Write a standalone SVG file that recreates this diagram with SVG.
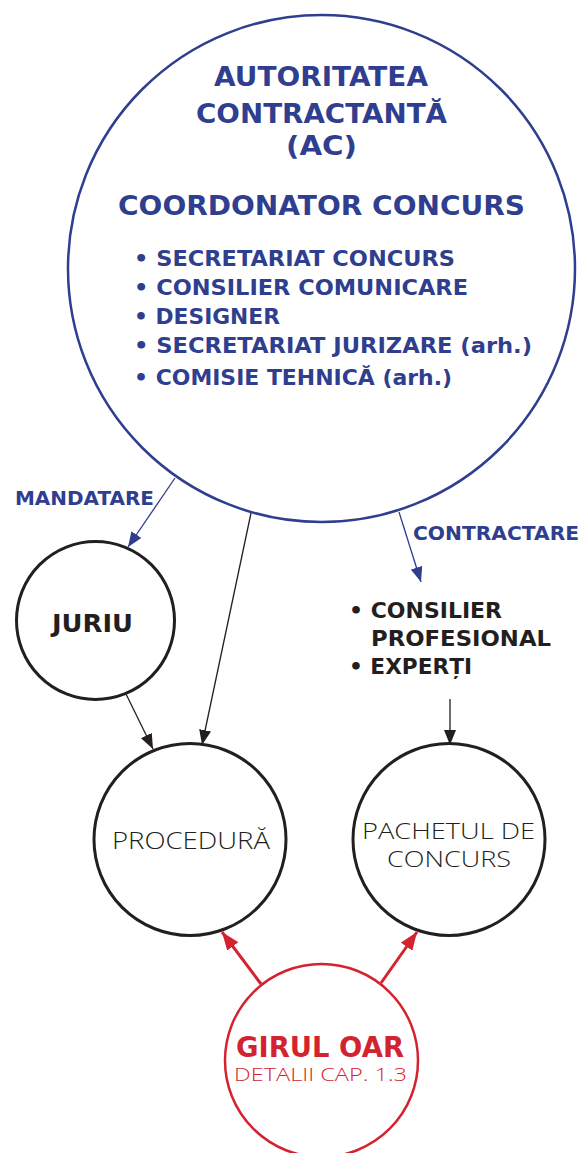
<svg xmlns="http://www.w3.org/2000/svg" width="584" height="1153" viewBox="0 0 584 1153">
<style>
.b{font-family:"DejaVu Sans","Liberation Sans",sans-serif;font-weight:bold}
.l{font-family:"Open Sans","Lato","Liberation Sans",sans-serif;font-weight:300}
.blue{fill:#2f3e8e}
.dark{fill:#231f20}
.red{fill:#d42330}
</style>
<defs>
<marker id="ab" markerUnits="userSpaceOnUse" markerWidth="15" markerHeight="12" refX="15" refY="6" orient="auto"><path d="M0,0 L15,6 L0,12 z" fill="#2f3e8e"/></marker>
<marker id="ak" markerUnits="userSpaceOnUse" markerWidth="15" markerHeight="12" refX="15" refY="6" orient="auto"><path d="M0,0 L15,6 L0,12 z" fill="#231f20"/></marker>
<marker id="ar" markerUnits="userSpaceOnUse" markerWidth="18" markerHeight="14" refX="18" refY="7" orient="auto"><path d="M0,0 L18,7 L0,14 z" fill="#d42330"/></marker>
</defs>
<rect width="584" height="1153" fill="#fff"/>
<g id="connectors">
<line x1="175" y1="478" x2="128" y2="547" stroke="#2f3e8e" stroke-width="1.3" marker-end="url(#ab)"/>
<line x1="399" y1="512" x2="421" y2="582" stroke="#2f3e8e" stroke-width="1.3" marker-end="url(#ab)"/>
<line x1="251" y1="513" x2="202" y2="745" stroke="#231f20" stroke-width="1.3" marker-end="url(#ak)"/>
<line x1="126" y1="694" x2="153" y2="749" stroke="#231f20" stroke-width="1.3" marker-end="url(#ak)"/>
<line x1="450" y1="699" x2="450" y2="745" stroke="#231f20" stroke-width="1.3" marker-end="url(#ak)"/>
<line x1="261" y1="984" x2="222" y2="932" stroke="#d42330" stroke-width="3" marker-end="url(#ar)"/>
<line x1="381" y1="983" x2="417" y2="932" stroke="#d42330" stroke-width="3" marker-end="url(#ar)"/>
<text class="b blue" x="15" y="505" font-size="19.5" textLength="139" lengthAdjust="spacingAndGlyphs">MANDATARE</text>
<text class="b blue" x="413" y="540" font-size="20" textLength="166" lengthAdjust="spacingAndGlyphs">CONTRACTARE</text>
</g>
<g id="ac">
<circle cx="321.5" cy="268.5" r="253.5" fill="none" stroke="#2f3e8e" stroke-width="2.5"/>
<text class="b blue" x="214" y="86" font-size="26" textLength="214" lengthAdjust="spacingAndGlyphs">AUTORITATEA</text>
<text class="b blue" x="196" y="123" font-size="26" textLength="251" lengthAdjust="spacingAndGlyphs">CONTRACTANTĂ</text>
<text class="b blue" x="286" y="155" font-size="26" textLength="71" lengthAdjust="spacingAndGlyphs">(AC)</text>
<text class="b blue" x="118" y="215" font-size="27" textLength="407" lengthAdjust="spacingAndGlyphs">COORDONATOR CONCURS</text>
<text class="b blue" x="134" y="266" font-size="21.5" textLength="321" lengthAdjust="spacingAndGlyphs">• SECRETARIAT CONCURS</text>
<text class="b blue" x="134" y="295" font-size="21.5" textLength="334" lengthAdjust="spacingAndGlyphs">• CONSILIER COMUNICARE</text>
<text class="b blue" x="134" y="324" font-size="21.5" textLength="146" lengthAdjust="spacingAndGlyphs">• DESIGNER</text>
<text class="b blue" x="134" y="353" font-size="21.5" textLength="398" lengthAdjust="spacingAndGlyphs">• SECRETARIAT JURIZARE (arh.)</text>
<text class="b blue" x="134" y="385" font-size="21.5" textLength="318" lengthAdjust="spacingAndGlyphs">• COMISIE TEHNICĂ (arh.)</text>
</g>
<g id="juriu">
<circle cx="95.5" cy="620.5" r="79" fill="none" stroke="#231f20" stroke-width="3"/>
<text class="b dark" x="52" y="632" font-size="25.5" textLength="81" lengthAdjust="spacingAndGlyphs">JURIU</text>
</g>
<g id="consilier">
<text class="b dark" x="349" y="618" font-size="22" textLength="153" lengthAdjust="spacingAndGlyphs">• CONSILIER</text>
<text class="b dark" x="371" y="646" font-size="22" textLength="180" lengthAdjust="spacingAndGlyphs">PROFESIONAL</text>
<text class="b dark" x="349" y="674" font-size="22" textLength="123" lengthAdjust="spacingAndGlyphs">• EXPERȚI</text>
</g>
<g id="procedura">
<circle cx="190" cy="839.5" r="96" fill="none" stroke="#231f20" stroke-width="3"/>
<text class="l dark" x="112" y="849" font-size="23" textLength="158" lengthAdjust="spacingAndGlyphs">PROCEDURĂ</text>
</g>
<g id="pachetul">
<circle cx="449" cy="839.5" r="96" fill="none" stroke="#231f20" stroke-width="3"/>
<text class="l dark" x="362" y="839" font-size="22" textLength="173" lengthAdjust="spacingAndGlyphs">PACHETUL DE</text>
<text class="l dark" x="387" y="867" font-size="22" textLength="124" lengthAdjust="spacingAndGlyphs">CONCURS</text>
</g>
<g id="girul">
<circle cx="321.5" cy="1060.5" r="96.5" fill="none" stroke="#d42330" stroke-width="2.5"/>
<text class="b red" x="236" y="1057" font-size="27.5" textLength="168" lengthAdjust="spacingAndGlyphs">GIRUL OAR</text>
<text class="l red" x="234" y="1081" font-size="18" textLength="173" lengthAdjust="spacingAndGlyphs">DETALII CAP. 1.3</text>
</g>
</svg>
